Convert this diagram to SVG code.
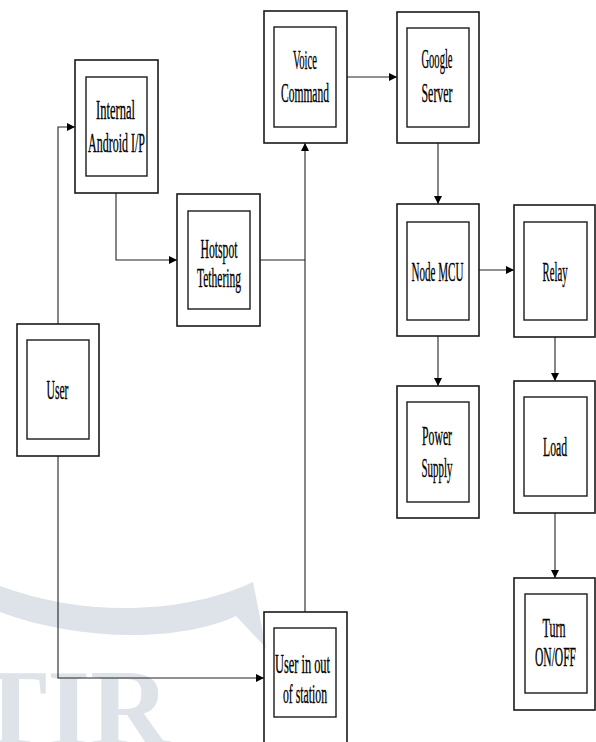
<svg xmlns="http://www.w3.org/2000/svg" width="596" height="742" viewBox="0 0 596 742">
<style>
.o{fill:none;stroke:#1a1a1a;stroke-width:1.6}
.i{fill:none;stroke:#1a1a1a;stroke-width:1.4}
.t{font-family:"Liberation Serif","Times New Roman",serif;font-size:28px;fill:#000;stroke:#000;stroke-width:0.35;text-anchor:middle}
.c{fill:none;stroke:#222;stroke-width:1.1}
.wm{fill:#dde3e8}
</style>
<defs>
<marker id="ah" viewBox="0 0 10 10" refX="10" refY="5" markerWidth="9" markerHeight="8" markerUnits="userSpaceOnUse" orient="auto">
<path d="M0,0 L10,5 L0,10 Z" fill="#000"/>
</marker>
</defs>
<rect width="596" height="742" fill="#fff"/>
<g id="watermark">
<path class="wm" d="M0,586 C80,616 180,616 253,582 L266,648 L236,616 C180,642 80,642 0,612 Z"/>
<text x="-26" y="746" font-family="Liberation Serif,serif" font-weight="bold" font-size="110" fill="#dde3e8">TIR</text>
</g>
<g id="connectors">
<path class="c" d="M58,324 V127 H75" marker-end="url(#ah)"/>
<path class="c" d="M116,193 V260 H177" marker-end="url(#ah)"/>
<path class="c" d="M260,260 H305"/>
<path class="c" d="M305,612 V143" marker-end="url(#ah)"/>
<path class="c" d="M58,456 V678 H264" marker-end="url(#ah)"/>
<path class="c" d="M347,77 H397" marker-end="url(#ah)"/>
<path class="c" d="M438,143 V204" marker-end="url(#ah)"/>
<path class="c" d="M479,270 H514" marker-end="url(#ah)"/>
<path class="c" d="M438,336 V386" marker-end="url(#ah)"/>
<path class="c" d="M555,337 V381" marker-end="url(#ah)"/>
<path class="c" d="M555,513 V578" marker-end="url(#ah)"/>
</g>
<g id="internal">
<rect class="o" x="75" y="60" width="83" height="133"/>
<rect class="i" x="86" y="77" width="61" height="99"/>
<text class="t" x="115.5" y="119" textLength="39" lengthAdjust="spacingAndGlyphs">Internal</text>
<text class="t" x="116.5" y="152" textLength="57" lengthAdjust="spacingAndGlyphs">Android I/P</text>
</g>
<g id="voice">
<rect class="o" x="264" y="11" width="83" height="132"/>
<rect class="i" x="274" y="27" width="62" height="100"/>
<text class="t" x="305" y="69" textLength="24" lengthAdjust="spacingAndGlyphs">Voice</text>
<text class="t" x="305" y="102" textLength="48" lengthAdjust="spacingAndGlyphs">Command</text>
</g>
<g id="google">
<rect class="o" x="397" y="12" width="82" height="131"/>
<rect class="i" x="407" y="28" width="62" height="99"/>
<text class="t" x="437" y="68" textLength="31" lengthAdjust="spacingAndGlyphs">Google</text>
<text class="t" x="437" y="102" textLength="31" lengthAdjust="spacingAndGlyphs">Server</text>
</g>
<g id="hotspot">
<rect class="o" x="177" y="194" width="83" height="132"/>
<rect class="i" x="188" y="211" width="62" height="98"/>
<text class="t" x="219" y="258" textLength="37" lengthAdjust="spacingAndGlyphs">Hotspot</text>
<text class="t" x="219" y="287" textLength="44" lengthAdjust="spacingAndGlyphs">Tethering</text>
</g>
<g id="nodemcu">
<rect class="o" x="397" y="204" width="82" height="132"/>
<rect class="i" x="407" y="222" width="62" height="98"/>
<text class="t" x="437.5" y="281" textLength="52" lengthAdjust="spacingAndGlyphs">Node MCU</text>
</g>
<g id="relay">
<rect class="o" x="514" y="205" width="81" height="132"/>
<rect class="i" x="524" y="222" width="63" height="98"/>
<text class="t" x="555" y="281" textLength="25" lengthAdjust="spacingAndGlyphs">Relay</text>
</g>
<g id="user">
<rect class="o" x="17" y="324" width="82" height="132"/>
<rect class="i" x="27" y="340" width="62" height="99"/>
<text class="t" x="57.5" y="399" textLength="22" lengthAdjust="spacingAndGlyphs">User</text>
</g>
<g id="power">
<rect class="o" x="397" y="386" width="82" height="132"/>
<rect class="i" x="407" y="402" width="62" height="100"/>
<text class="t" x="437" y="445" textLength="30" lengthAdjust="spacingAndGlyphs">Power</text>
<text class="t" x="437" y="477" textLength="31" lengthAdjust="spacingAndGlyphs">Supply</text>
</g>
<g id="load">
<rect class="o" x="514" y="381" width="81" height="132"/>
<rect class="i" x="524" y="397" width="63" height="99"/>
<text class="t" x="555" y="456" textLength="24" lengthAdjust="spacingAndGlyphs">Load</text>
</g>
<g id="turn">
<rect class="o" x="514" y="578" width="81" height="132"/>
<rect class="i" x="525" y="594" width="62" height="99"/>
<text class="t" x="554" y="637" textLength="23" lengthAdjust="spacingAndGlyphs">Turn</text>
<text class="t" x="555.5" y="666" textLength="41" lengthAdjust="spacingAndGlyphs">ON/OFF</text>
</g>
<g id="userout">
<rect class="o" x="264" y="612" width="83" height="150"/>
<rect class="i" x="274" y="628" width="62" height="89"/>
<text class="t" x="302.5" y="673" textLength="55" lengthAdjust="spacingAndGlyphs">User in out</text>
<text class="t" x="305" y="703" textLength="44" lengthAdjust="spacingAndGlyphs">of station</text>
</g>
</svg>
